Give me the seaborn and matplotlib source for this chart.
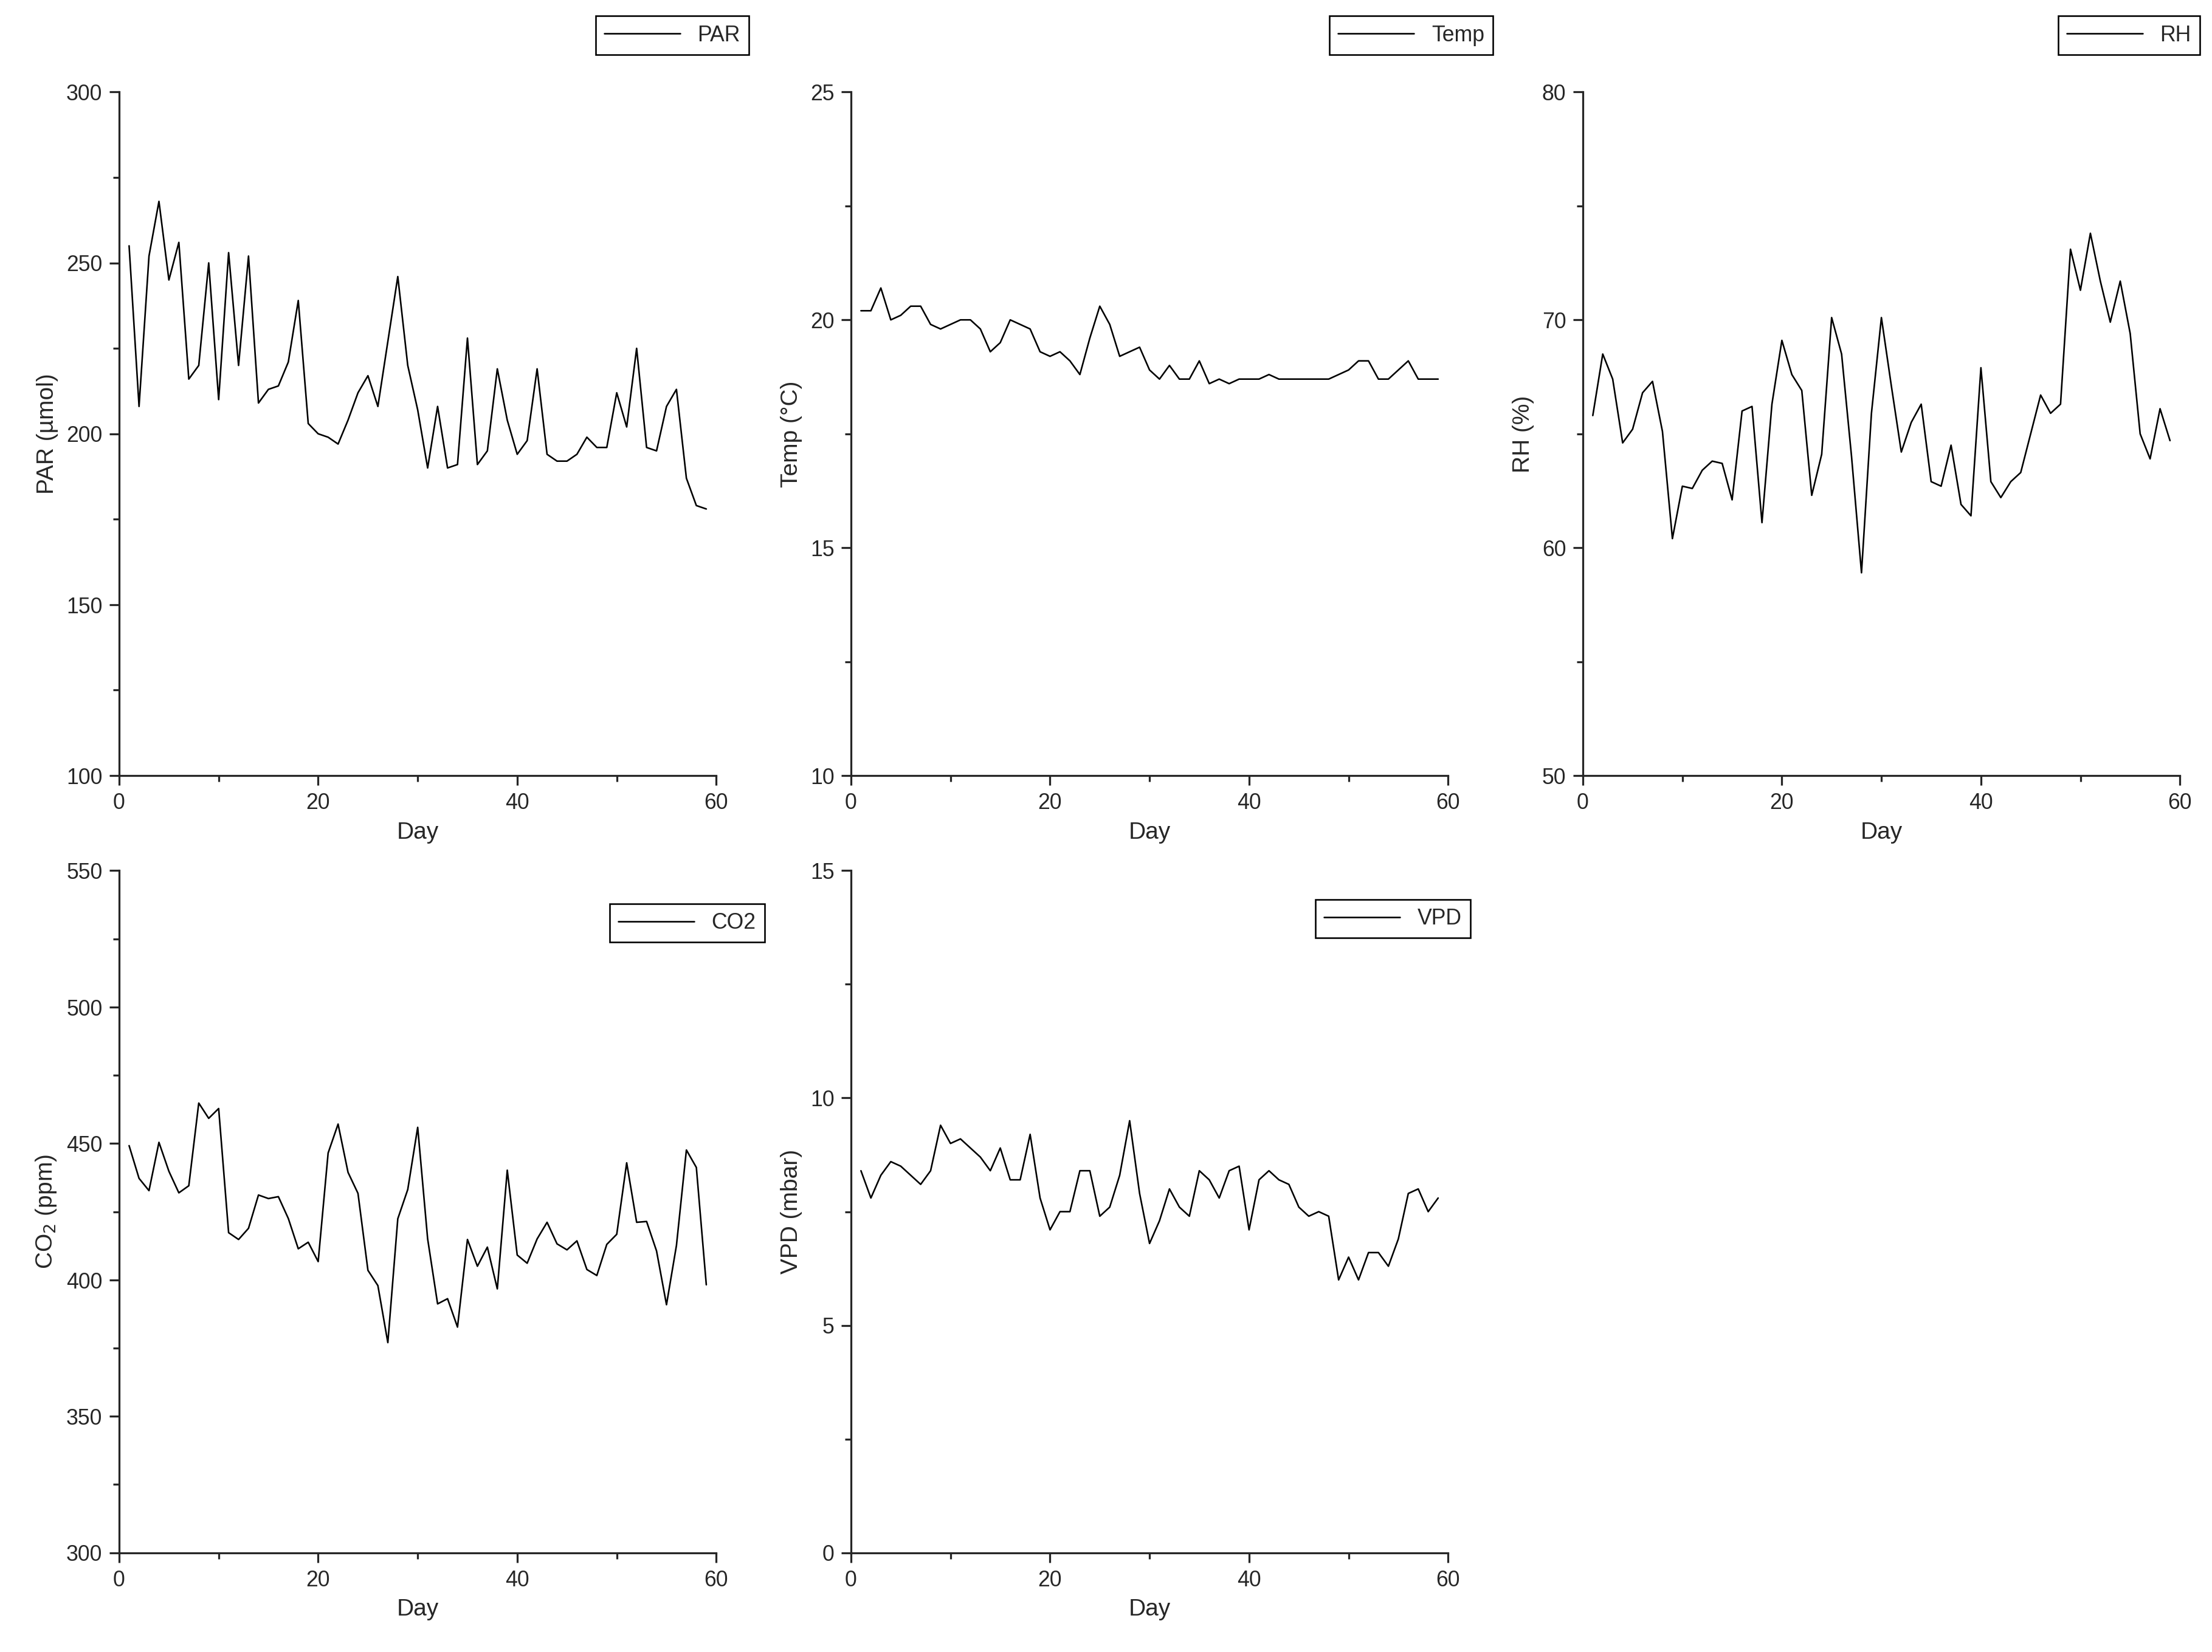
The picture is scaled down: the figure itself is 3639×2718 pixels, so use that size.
import numpy as np
import pandas as pd
import matplotlib
matplotlib.use("Agg")
import matplotlib.pyplot as plt
from matplotlib.ticker import AutoMinorLocator
import seaborn as sns

days = list(range(1, 60))

par = [255, 208, 252, 268, 245, 256, 216, 220, 250, 210,
       253, 220, 252, 209, 213, 214, 221, 239, 203, 200,
       199, 197, 204, 212, 217, 208, 227, 246, 220, 207,
       190, 208, 190, 191, 228, 191, 195, 219, 204, 194,
       198, 219, 194, 192, 192, 194, 199, 196, 196, 212,
       202, 225, 196, 195, 208, 213, 187, 179, 178]
temp = [20.2, 20.2, 20.7, 20.0, 20.1, 20.3, 20.3, 19.9, 19.8, 19.9,
        20.0, 20.0, 19.8, 19.3, 19.5, 20.0, 19.9, 19.8, 19.3, 19.2,
        19.3, 19.1, 18.8, 19.6, 20.3, 19.9, 19.2, 19.3, 19.4, 18.9,
        18.7, 19.0, 18.7, 18.7, 19.1, 18.6, 18.7, 18.6, 18.7, 18.7,
        18.7, 18.8, 18.7, 18.7, 18.7, 18.7, 18.7, 18.7, 18.8, 18.9,
        19.1, 19.1, 18.7, 18.7, 18.9, 19.1, 18.7, 18.7, 18.7]
rh = [65.8, 68.5, 67.4, 64.6, 65.2, 66.8, 67.3, 65.1, 60.4, 62.7,
      62.6, 63.4, 63.8, 63.7, 62.1, 66.0, 66.2, 61.1, 66.3, 69.1,
      67.6, 66.9, 62.3, 64.1, 70.1, 68.5, 64.0, 58.9, 65.9, 70.1,
      67.1, 64.2, 65.5, 66.3, 62.9, 62.7, 64.5, 61.9, 61.4, 67.9,
      62.9, 62.2, 62.9, 63.3, 65.0, 66.7, 65.9, 66.3, 73.1, 71.3,
      73.8, 71.7, 69.9, 71.7, 69.4, 65.0, 63.9, 66.1, 64.7]
co2 = [449.2, 437.2, 432.7, 450.4, 439.8, 431.9, 434.5, 464.8, 459.2, 462.8,
       417.3, 414.8, 418.9, 431.1, 429.8, 430.5, 422.5, 411.4, 413.8, 406.7,
       446.5, 457.1, 439.4, 431.7, 403.5, 397.9, 377.0, 422.4, 433.1, 455.9,
       415.0, 391.2, 393.1, 382.7, 414.8, 405.0, 412.0, 396.7, 440.2, 409.1,
       406.1, 415.0, 421.1, 413.2, 411.0, 414.3, 403.8, 401.6, 413.0, 416.7,
       442.9, 421.1, 421.4, 410.6, 390.9, 412.6, 447.6, 441.2, 398.2]
vpd = [8.4, 7.8, 8.3, 8.6, 8.5, 8.3, 8.1, 8.4, 9.4, 9.0,
       9.1, 8.9, 8.7, 8.4, 8.9, 8.2, 8.2, 9.2, 7.8, 7.1,
       7.5, 7.5, 8.4, 8.4, 7.4, 7.6, 8.3, 9.5, 7.9, 6.8,
       7.3, 8.0, 7.6, 7.4, 8.4, 8.2, 7.8, 8.4, 8.5, 7.1,
       8.2, 8.4, 8.2, 8.1, 7.6, 7.4, 7.5, 7.4, 6.0, 6.5,
       6.0, 6.6, 6.6, 6.3, 6.9, 7.9, 8.0, 7.5, 7.8]

sns.set_style("ticks")
plt.rcParams['font.family'] = ['Liberation Sans', 'DejaVu Sans']
plt.rcParams['font.size'] = 10

W, H = 1560.0, 1165.0
fig = plt.figure(figsize=(15.6, 11.65), dpi=233.33)

# (values, label, ylabel, ylim, yticks, axes box px, legend box px)
panels = [
    (par, "PAR", "PAR (µmol)", (100, 300), 50, (84, 65, 505, 547), (413, 10, 535, 40)),
    (temp, "Temp", "Temp (°C)", (10, 25), 5, (600, 65, 1021, 547), (928, 10, 1062, 40)),
    (rh, "RH", "RH (%)", (50, 80), 10, (1116, 65, 1537, 547), (1447, 10, 1555, 40)),
    (co2, "CO2", "CO$_2$ (ppm)", (300, 550), 50, (84, 614, 505, 1095), (424, 636, 545, 666)),
    (vpd, "VPD", "VPD (mbar)", (0, 15), 5, (600, 614, 1021, 1095), (921, 633, 1043, 663)),
]

for vals, lab, ylab, ylim, step, box, lbox in panels:
    x0, y0, x1, y1 = box
    ax = fig.add_axes([x0 / W, 1 - y1 / H, (x1 - x0) / W, (y1 - y0) / H])
    df = pd.DataFrame({"Day": days, lab: vals})
    sns.lineplot(data=df, x="Day", y=lab, ax=ax, color="black", linewidth=0.8, label=lab)
    ax.set_xlim(0, 60)
    ax.set_ylim(*ylim)
    ax.set_xticks([0, 20, 40, 60])
    ax.set_yticks(np.arange(ylim[0], ylim[1] + step / 2, step))
    ax.xaxis.set_minor_locator(AutoMinorLocator(2))
    ax.yaxis.set_minor_locator(AutoMinorLocator(2))
    ax.tick_params(which="major", direction="out", length=5, width=1, labelsize=11)
    ax.tick_params(which="minor", direction="out", length=3, width=1)
    ax.set_xlabel("Day", fontsize=12)
    ax.set_ylabel(ylab, fontsize=12)
    sns.despine(ax=ax)
    for s in ("left", "bottom"):
        ax.spines[s].set_linewidth(1)
    lx0, ly0, lx1, ly1 = lbox
    leg = ax.legend(loc="center", bbox_to_anchor=((lx0 + lx1) / 2 / W, 1 - (ly0 + ly1) / 2 / H),
                    bbox_transform=fig.transFigure, fancybox=False, edgecolor="black",
                    framealpha=1, fontsize=11, handlelength=3.5, borderpad=0.4)
    leg.get_frame().set_linewidth(0.8)

fig.savefig("out.png", dpi=233.33)
